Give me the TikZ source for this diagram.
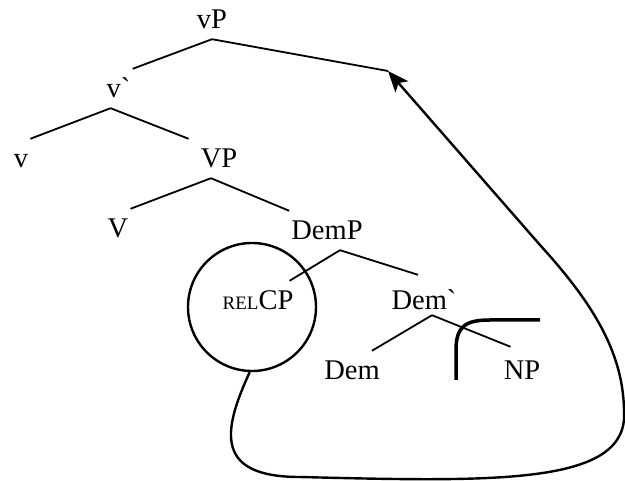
\documentclass[tikz,border=0pt]{standalone}
\usepackage{fontspec}
\setmainfont{Liberation Serif}
\usetikzlibrary{arrows.meta,positioning}

\begin{document}
\begin{tikzpicture}[x=1pt,y=-1pt,
    lbl/.style={font=\fontsize{28.5}{30}\selectfont,anchor=base,
                inner xsep=2pt,inner ysep=10pt,text height=19pt,text depth=0pt},
    branch/.style={line width=1.8pt},
    ring/.style={draw,circle,line width=2.4pt,minimum size=128pt,inner sep=0pt},
    move/.style={line width=2.4pt,-{Stealth[length=21pt,width=17pt,inset=5pt]}}]
    \useasboundingbox (0,0) rectangle (625,481);
    % tree labels
    \node[lbl] (vP) at (212,29) {vP};
    \node[lbl] (vbar) at (118.6,98) {v\textasciigrave};
    \coordinate (land) at (388,71);
    \node[lbl] (v) at (21,168) {v};
    \node[lbl] (VP) at (219,168) {VP};
    \node[lbl] (V) at (118,238) {V};
    \node[lbl] (DemP) at (327,240) {DemP};
    \node[lbl] (relcp) at (258,310) {{\fontsize{19}{20}\selectfont REL}CP};
    \node[lbl] (dembar) at (424,310) {Dem\textasciigrave};
    \node[lbl] (Dem) at (352,380) {Dem};
    \node[lbl] (NP) at (522,380) {NP};
    % branches
    \draw[branch] (vP.south) -- (vbar.north east);
    \draw[branch] (vP.south) -- (land);
    \draw[branch] ([xshift=-8pt]vbar.south) -- (v.north east);
    \draw[branch] ([xshift=-8pt]vbar.south) -- ([xshift=-10pt]VP.north west);
    \draw[branch] ([xshift=-8pt]VP.south) -- (V.north east);
    \draw[branch] ([xshift=-8pt]VP.south) -- (DemP.north west);
    \draw[branch] ([xshift=13pt]DemP.south) -- ([xshift=-6pt]relcp.north east);
    \draw[branch] ([xshift=13pt]DemP.south) -- ([shift={(-6pt,6pt)}]dembar.north);
    \draw[branch] ([shift={(8pt,5pt)}]dembar.south) -- ([xshift=-10pt]Dem.north east);
    \draw[branch] ([shift={(8pt,5pt)}]dembar.south) -- ([shift={(9pt,4pt)}]NP.north west);
    % relative clause and its movement
    \node[ring] (ring) at (252,307) {};
    \draw[move] (ring.-92) .. controls (222,432) and (215,477) .. (300,477)
        .. controls (500,482) and (630,485) .. (624,410)
        .. controls (623,350) and (590,300) .. (540,245) -- (land);
    \draw[line width=3.5pt] (456,380) -- (456,350) .. controls (456,326) and (466,320) .. (490,320) -- (540,320);
\end{tikzpicture}
\end{document}
